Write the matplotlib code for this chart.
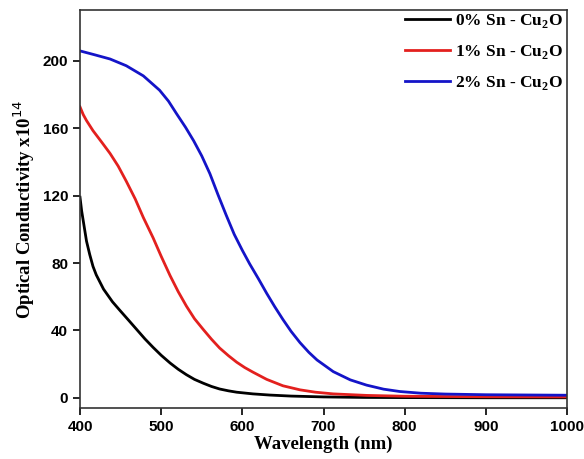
import matplotlib.pyplot as plt

wl_0 = [400, 402, 405, 408, 412, 416, 420, 429, 440, 449, 460, 470, 480, 490, 500, 511, 521, 531, 541, 552, 562,
        572, 583, 593, 613, 634, 660, 700, 750, 800, 900, 1000]
sig_0 = [119, 111, 102, 93, 85, 78, 73, 64.5, 57, 52, 46, 40.5, 35, 30, 25.3, 20.7, 17, 13.8, 11, 8.7, 6.8,
         5.3, 4.2, 3.4, 2.4, 1.7, 1.1, 0.6, 0.3, 0.2, 0.1, 0.1]

wl_1 = [400, 404, 408, 416, 427, 437, 447, 457, 468, 478, 490, 500, 511, 521, 531, 541, 552, 562, 572,
        583, 593, 603, 613, 630, 650, 671, 690, 712, 753, 800, 900, 1000]
sig_1 = [172.6, 168, 164.5, 158.5, 151.5, 145, 137.5, 128.5, 118, 107, 95, 84, 72.5, 63, 54.5, 47, 40.5, 34.8, 29.6,
         25, 21.2, 18, 15.3, 11, 7.2, 4.8, 3.4, 2.4, 1.5, 1.0, 0.7, 0.6]

wl_2 = [400, 418, 437, 457, 478, 498, 509, 519, 530, 540, 550, 560, 570, 580, 590, 600, 609, 620, 630, 640, 650,
        660, 671, 682, 692, 712, 733, 753, 774, 794, 820, 850, 900, 1000]
sig_2 = [205.8, 203.5, 201, 197, 191, 182.5, 176, 168.5, 160.5, 152.5, 143.5, 133, 120.5, 108.5, 97, 87.5, 79.5, 70.5, 62, 54, 46.5,
         39.5, 32.8, 27, 22.5, 15.6, 10.7, 7.6, 5.2, 3.8, 2.8, 2.3, 1.9, 1.6]

labels = ['0% Sn - Cu$_2$O', '1% Sn - Cu$_2$O', '2% Sn - Cu$_2$O']
colors = ['black', '#e3201e', '#1414c8']

fig = plt.figure(figsize=(5.84, 4.59), dpi=100)
ax = fig.add_axes([0.137, 0.111, 0.834, 0.867])

for wl, s, lab, c in zip([wl_0, wl_1, wl_2], [sig_0, sig_1, sig_2], labels, colors):
    ax.plot(wl, s, color=c, lw=2, label=lab)

ax.set_xlim(400, 1000)
ax.set_ylim(-6, 230)
ax.set_xticks([400, 500, 600, 700, 800, 900, 1000])
ax.set_yticks([0, 40, 80, 120, 160, 200])
for lab in ax.get_xticklabels() + ax.get_yticklabels():
    lab.set_fontfamily('Liberation Sans')
    lab.set_fontweight('bold')
    lab.set_fontsize(11)
ax.tick_params(direction='out', length=5, width=1.2)
for sp in ax.spines.values():
    sp.set_linewidth(1.2)
    sp.set_color('#333333')

ax.set_xlabel('Wavelength (nm)', family='Liberation Serif', weight='bold', fontsize=13.5, labelpad=1)
ax.set_ylabel('Optical Conductivity x10$^{14}$', family='Liberation Serif', weight='bold', fontsize=13.5)

plt.rcParams['mathtext.fontset'] = 'custom'
plt.rcParams['mathtext.rm'] = 'Liberation Serif:bold'
leg = ax.legend(loc='upper right', bbox_to_anchor=(1.006, 1.013), frameon=False,
                handlelength=2.6, handletextpad=0.3,
                borderaxespad=0.0, labelspacing=0.75,
                prop={'family': 'Liberation Serif', 'weight': 'bold', 'size': 12.5})

fig.savefig('out.png', dpi=100)
